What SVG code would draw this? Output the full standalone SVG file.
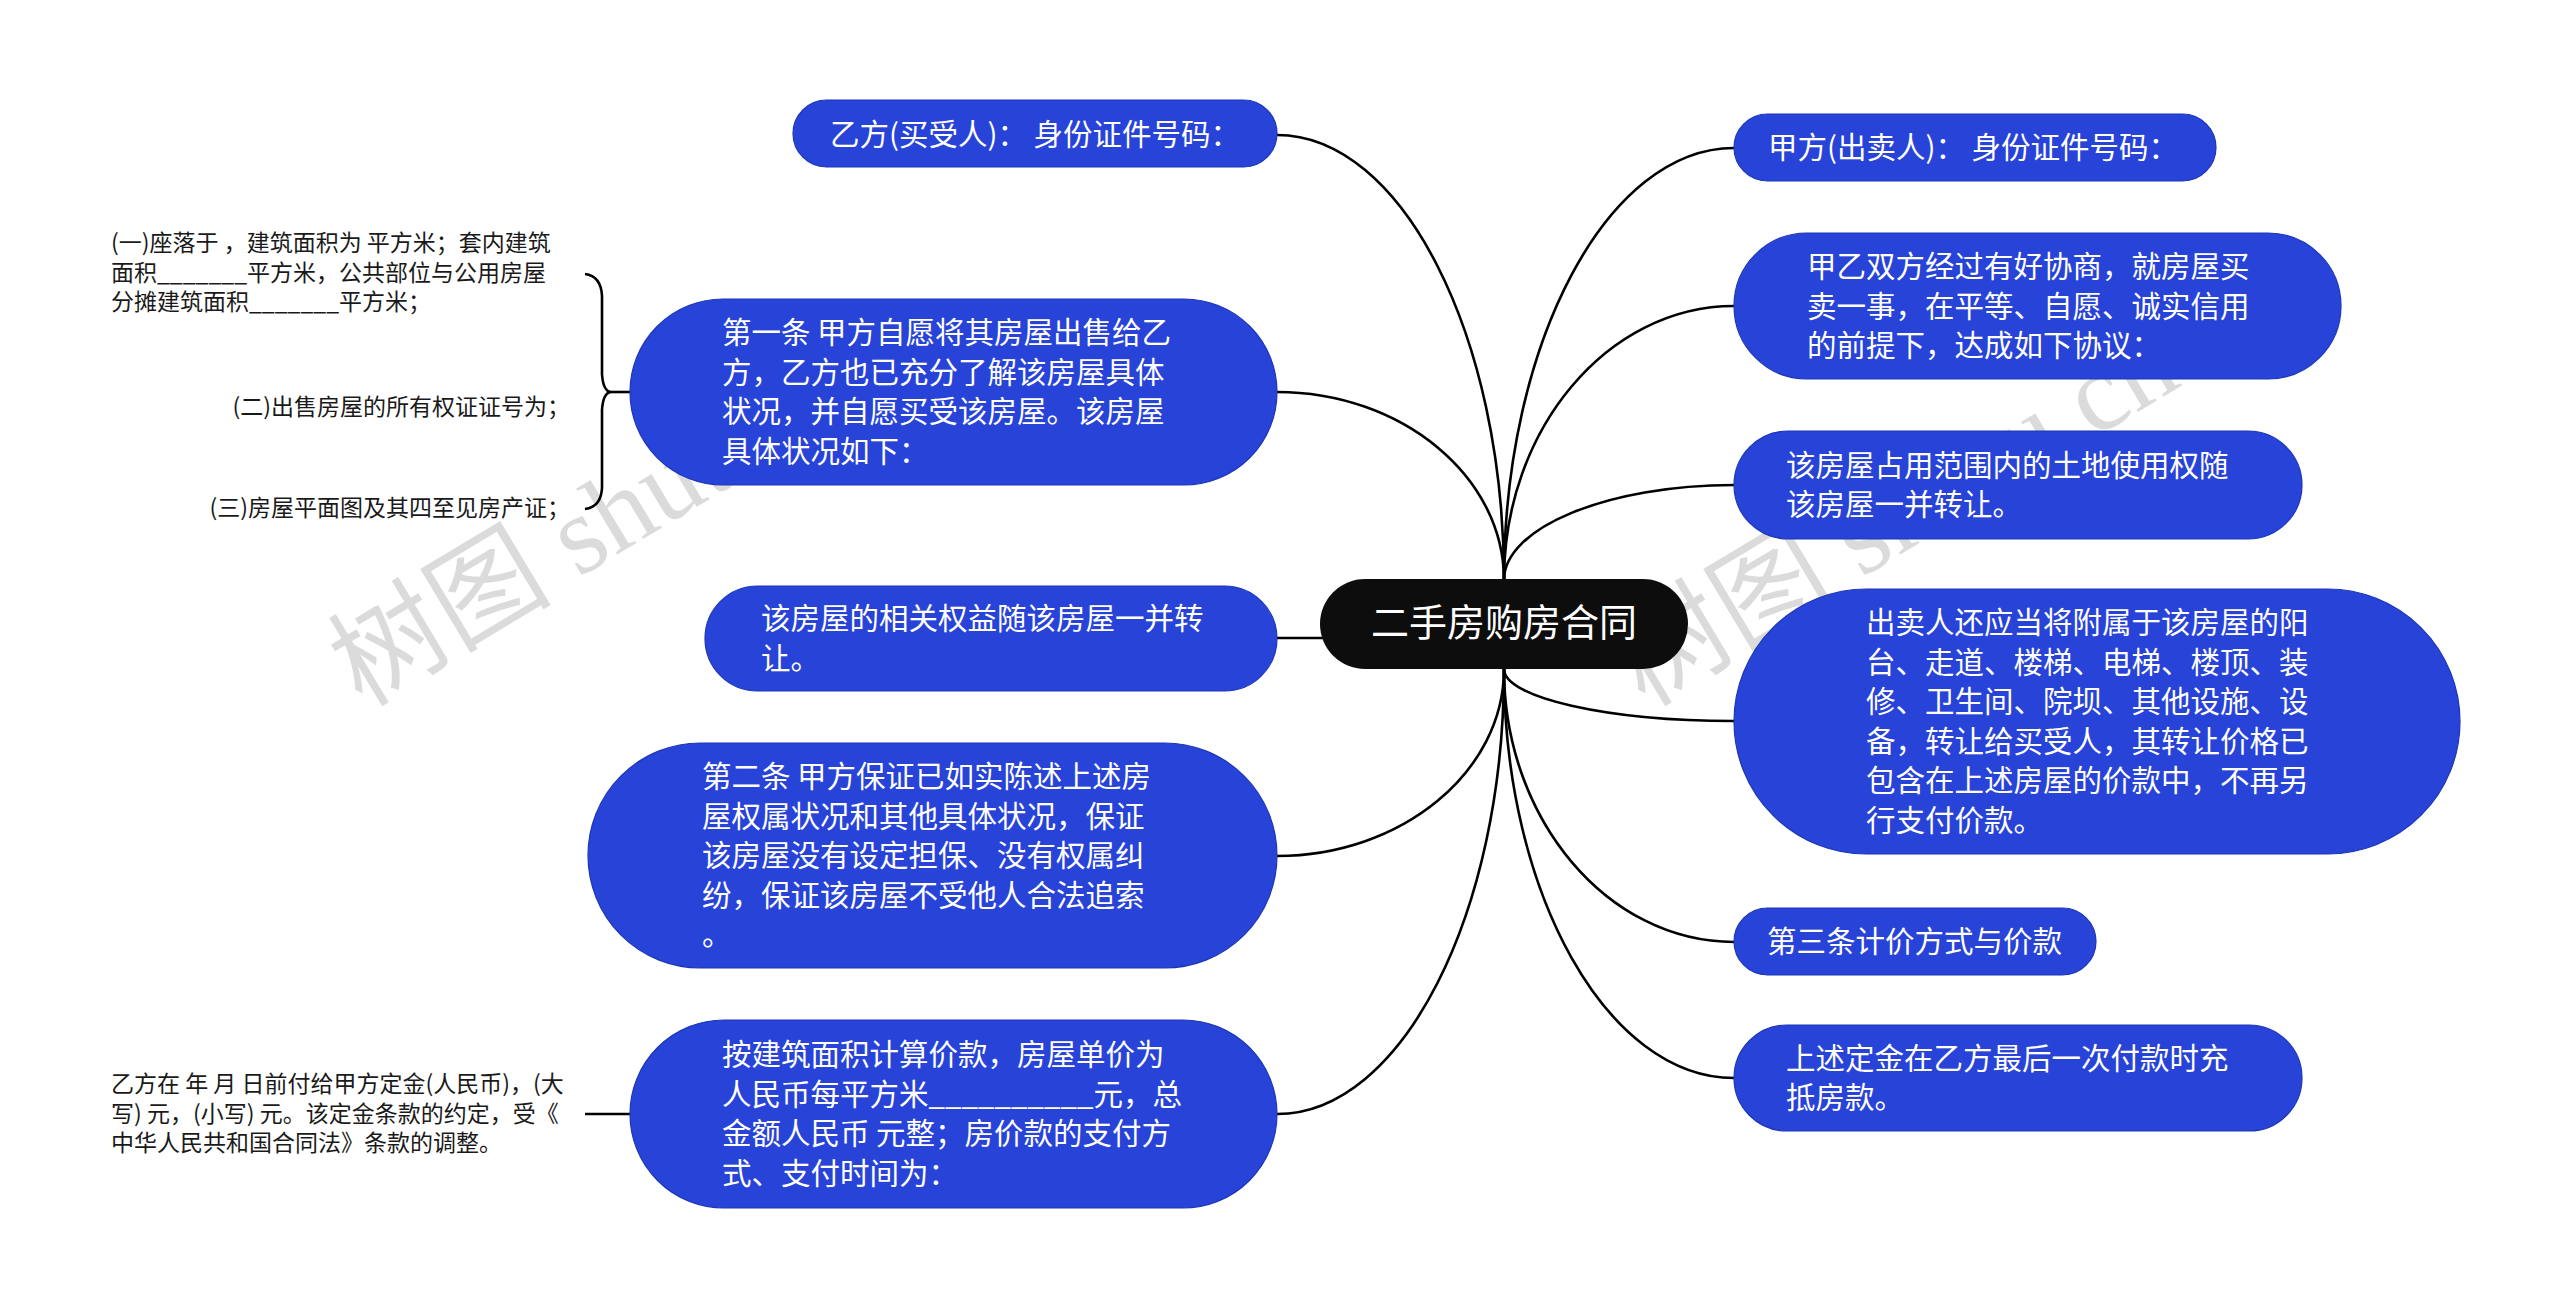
<svg xmlns="http://www.w3.org/2000/svg" width="2560" height="1307" viewBox="0 0 2560 1307">
<style>
.bg{fill:#ffffff}
.wm{font-family:"Liberation Serif","Noto Sans CJK SC",serif;font-size:112px;fill:#000;fill-opacity:0.14}
.edge{fill:none;stroke:#000;stroke-width:2.6}
.node{fill:#2843d7;stroke:#1d36b8;stroke-width:1.2}
.root{fill:#0d0d0d}
.nt{font-family:"Noto Sans CJK SC","Noto Sans",sans-serif;font-size:29.5px;fill:#fff}
.rt{font-family:"Noto Sans CJK SC","Noto Sans",sans-serif;font-size:38px;fill:#fff}
.lt{font-family:"Noto Sans CJK SC","Noto Sans",sans-serif;font-size:23px;fill:#1a1a1a}
</style>
<rect class="bg" x="0" y="0" width="2560" height="1307"/>
<g id="watermarks">
<text class="wm" x="362" y="708" transform="rotate(-31 362 708)">树图 shutu.cn</text>
<text class="wm" x="1645" y="708" transform="rotate(-31 1645 708)">树图 shutu.cn</text>
</g>
<g id="connectors">
<path class="edge" d="M1504 580 C1504 335.25 1401.85 135 1277 135"/>
<path class="edge" d="M1504 580 C1504 476.6 1401.85 392 1277 392"/>
<path class="edge" d="M1277 638 L1330 638"/>
<path class="edge" d="M1504 669 C1504 771.85 1401.85 856 1277 856"/>
<path class="edge" d="M1504 669 C1504 913.75 1401.85 1114 1277 1114"/>
<path class="edge" d="M1504 580 C1504 342.4 1607.5 148 1734 148"/>
<path class="edge" d="M1504 580 C1504 429.3 1607.5 306 1734 306"/>
<path class="edge" d="M1504 580 C1504 527.75 1607.5 485 1734 485"/>
<path class="edge" d="M1504 669 C1504 697.6 1607.5 721 1734 721"/>
<path class="edge" d="M1504 669 C1504 819.15 1607.5 942 1734 942"/>
<path class="edge" d="M1504 669 C1504 893.95 1607.5 1078 1734 1078"/>
<path class="edge" d="M585 274 Q601 276 602 296 L602 374 Q603 390 610 392 Q603 394 602 410 L602 488 Q601 507 585 509"/>
<path class="edge" d="M608 392 L631 392"/>
<path class="edge" d="M585 1114 L631 1114"/>
</g>
<g id="root">
<rect class="root" x="1320" y="579" width="368" height="90" rx="45"/>
<text class="rt" x="1504" y="636" text-anchor="middle">二手房购房合同</text>
</g>
<g id="node-yifang">
<rect class="node" x="793" y="100" width="484" height="67" rx="33.5"/>
<text class="nt" x="830" y="145">乙方(买受人)： 身份证件号码：</text>
</g>
<g id="node-diyitiao">
<rect class="node" x="630" y="299" width="647" height="186" rx="93"/>
<text class="nt" x="722" y="343.25">第一条 甲方自愿将其房屋出售给乙<tspan x="722" dy="39.5">方，乙方也已充分了解该房屋具体</tspan><tspan x="722" dy="39.5">状况，并自愿买受该房屋。该房屋</tspan><tspan x="722" dy="39.5">具体状况如下：</tspan></text>
</g>
<g id="leaf-diyitiao">
<text class="lt" x="111" y="251">(一)座落于 ，建筑面积为 平方米；套内建筑<tspan x="111" dy="29.5">面积_______平方米，公共部位与公用房屋</tspan><tspan x="111" dy="29.5">分摊建筑面积_______平方米；</tspan></text>
<text class="lt" x="570" y="415" text-anchor="end">(二)出售房屋的所有权证证号为；</text>
<text class="lt" x="570" y="516" text-anchor="end">(三)房屋平面图及其四至见房产证；</text>
</g>
<g id="node-quanyi">
<rect class="node" x="705" y="586" width="572" height="105" rx="52.5"/>
<text class="nt" x="761" y="629.25">该房屋的相关权益随该房屋一并转<tspan x="761" dy="39.5">让。</tspan></text>
</g>
<g id="node-diertiao">
<rect class="node" x="588" y="743" width="689" height="225" rx="112.5"/>
<text class="nt" x="702" y="787">第二条 甲方保证已如实陈述上述房<tspan x="702" dy="39.5">屋权属状况和其他具体状况，保证</tspan><tspan x="702" dy="39.5">该房屋没有设定担保、没有权属纠</tspan><tspan x="702" dy="39.5">纷，保证该房屋不受他人合法追索</tspan><tspan x="702" dy="39.5">。</tspan></text>
</g>
<g id="node-jiakuan">
<rect class="node" x="630" y="1020" width="647" height="188" rx="94"/>
<text class="nt" x="722" y="1065.25">按建筑面积计算价款，房屋单价为<tspan x="722" dy="39.5">人民币每平方米__________元，总</tspan><tspan x="722" dy="39.5">金额人民币 元整；房价款的支付方</tspan><tspan x="722" dy="39.5">式、支付时间为：</tspan></text>
</g>
<g id="leaf-dingjin">
<text class="lt" x="111" y="1092">乙方在 年 月 日前付给甲方定金(人民币)，(大<tspan x="111" dy="29.5">写) 元，(小写) 元。该定金条款的约定，受《</tspan><tspan x="111" dy="29.5">中华人民共和国合同法》条款的调整。</tspan></text>
</g>
<g id="node-jiafang">
<rect class="node" x="1734" y="114" width="482" height="67" rx="33.5"/>
<text class="nt" x="1768" y="158">甲方(出卖人)： 身份证件号码：</text>
</g>
<g id="node-xieshang">
<rect class="node" x="1734" y="233" width="607" height="146" rx="73"/>
<text class="nt" x="1807" y="277">甲乙双方经过有好协商，就房屋买<tspan x="1807" dy="39.5">卖一事，在平等、自愿、诚实信用</tspan><tspan x="1807" dy="39.5">的前提下，达成如下协议：</tspan></text>
</g>
<g id="node-tudi">
<rect class="node" x="1734" y="431" width="568" height="108" rx="54"/>
<text class="nt" x="1786" y="475.75">该房屋占用范围内的土地使用权随<tspan x="1786" dy="39.5">该房屋一并转让。</tspan></text>
</g>
<g id="node-fushu">
<rect class="node" x="1734" y="589" width="726" height="265" rx="132.5"/>
<text class="nt" x="1866" y="633.25">出卖人还应当将附属于该房屋的阳<tspan x="1866" dy="39.5">台、走道、楼梯、电梯、楼顶、装</tspan><tspan x="1866" dy="39.5">修、卫生间、院坝、其他设施、设</tspan><tspan x="1866" dy="39.5">备，转让给买受人，其转让价格已</tspan><tspan x="1866" dy="39.5">包含在上述房屋的价款中，不再另</tspan><tspan x="1866" dy="39.5">行支付价款。</tspan></text>
</g>
<g id="node-disantiao">
<rect class="node" x="1734" y="908" width="362" height="67" rx="33.5"/>
<text class="nt" x="1767" y="952">第三条计价方式与价款</text>
</g>
<g id="node-dikuan">
<rect class="node" x="1734" y="1025" width="568" height="106" rx="53"/>
<text class="nt" x="1786" y="1068.75">上述定金在乙方最后一次付款时充<tspan x="1786" dy="39.5">抵房款。</tspan></text>
</g>
</svg>
